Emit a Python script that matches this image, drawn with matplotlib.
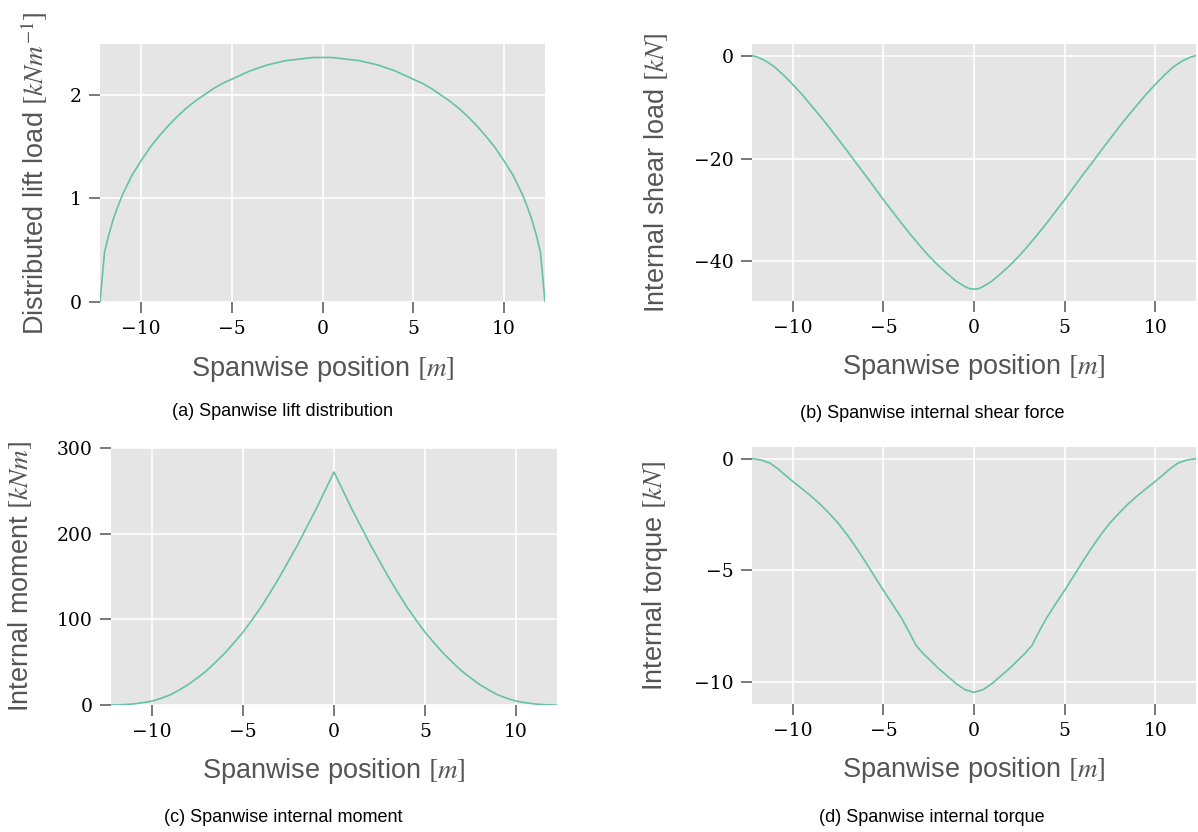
import numpy as np
import matplotlib
matplotlib.use("Agg")
import matplotlib.pyplot as plt

# spanwise stations [m] and values
span_lift = [-12.25, -12.0, -11.75, -11.5, -11.25, -11.0, -10.75, -10.5, -10.0, -9.5, -9.0, -8.5, -8.0, -7.5, -7.0,
             -6.5, -6.0, -5.5, -5.0, -4.5, -4.0, -3.5, -3.0, -2.5, -2.0, -1.5, -1.0, -0.5, 0.0,
             0.5, 1.0, 1.5, 2.0, 2.5, 3.0, 3.5, 4.0, 4.5, 5.0, 5.5, 6.0, 6.5,
             7.0, 7.5, 8.0, 8.5, 9.0, 9.5, 10.0, 10.5, 10.75, 11.0, 11.25, 11.5, 11.75, 12.0, 12.25]
lift = [0.0, 0.48, 0.66, 0.81, 0.93, 1.04, 1.13, 1.22, 1.36, 1.49, 1.60, 1.70, 1.79, 1.87, 1.94,
        2.00, 2.06, 2.11, 2.15, 2.19, 2.23, 2.26, 2.29, 2.31, 2.33, 2.34, 2.35, 2.36, 2.36,
        2.36, 2.35, 2.34, 2.33, 2.31, 2.29, 2.26, 2.23, 2.19, 2.15, 2.11, 2.06, 2.00,
        1.94, 1.87, 1.79, 1.70, 1.60, 1.49, 1.36, 1.22, 1.13, 1.04, 0.93, 0.81, 0.66, 0.48, 0.0]

span_shear = [-12.25, -12.0, -11.5, -11.0, -10.5, -10.0, -9.5, -9.0, -8.5, -8.0, -7.5, -7.0, -6.5, -6.0,
              -5.5, -5.0, -4.5, -4.0, -3.5, -3.0, -2.5, -2.0, -1.5, -1.0, -0.5, -0.25, 0.0,
              0.25, 0.5, 1.0, 1.5, 2.0, 2.5, 3.0, 3.5, 4.0, 4.5, 5.0, 5.5,
              6.0, 6.5, 7.0, 7.5, 8.0, 8.5, 9.0, 9.5, 10.0, 10.5, 11.0, 11.5, 12.0, 12.25]
shear = [0.0, -0.2, -1.0, -2.2, -3.8, -5.6, -7.5, -9.6, -11.7, -13.9, -16.2, -18.5, -20.9, -23.2,
         -25.6, -28.0, -30.3, -32.6, -34.8, -36.9, -38.9, -40.7, -42.3, -43.8, -44.9, -45.3, -45.4,
         -45.3, -44.9, -43.8, -42.3, -40.7, -38.9, -36.9, -34.8, -32.6, -30.3, -28.0, -25.6,
         -23.2, -20.9, -18.5, -16.2, -13.9, -11.7, -9.6, -7.5, -5.6, -3.8, -2.2, -1.0, -0.2, 0.0]

span_moment = [-12.25, -12.0, -11.5, -11.0, -10.5, -10.0, -9.5, -9.0, -8.5, -8.0, -7.5, -7.0, -6.5, -6.0,
               -5.5, -5.0, -4.5, -4.0, -3.5, -3.0, -2.5, -2.0, -1.5, -1.0, -0.5, 0.0,
               0.5, 1.0, 1.5, 2.0, 2.5, 3.0, 3.5, 4.0, 4.5, 5.0, 5.5,
               6.0, 6.5, 7.0, 7.5, 8.0, 8.5, 9.0, 9.5, 10.0, 10.5, 11.0, 11.5, 12.0, 12.25]
moment = [0.0, 0.1, 0.4, 1.3, 2.7, 4.5, 7.8, 11.8, 17.5, 24.0, 31.7, 40.0, 50.0, 60.5,
          72.5, 85.0, 99.5, 114.5, 131.5, 149.0, 168.0, 187.0, 207.5, 228.0, 250.0, 272.0,
          250.0, 228.0, 207.5, 187.0, 168.0, 149.0, 131.5, 114.5, 99.5, 85.0, 72.5,
          60.5, 50.0, 40.0, 31.7, 24.0, 17.5, 11.8, 7.8, 4.5, 2.7, 1.3, 0.4, 0.1, 0.0]

span_torque = [-12.25, -11.75, -11.25, -10.75, -10.5, -10.0, -9.5, -9.0, -8.5, -8.0, -7.5, -7.0, -6.5, -6.0,
               -5.5, -5.0, -4.5, -4.0, -3.6, -3.2, -2.8, -2.5, -2.0, -1.5, -1.0, -0.5, 0.0,
               0.5, 1.0, 1.5, 2.0, 2.5, 2.8, 3.2, 3.6, 4.0, 4.5, 5.0, 5.5,
               6.0, 6.5, 7.0, 7.5, 8.0, 8.5, 9.0, 9.5, 10.0, 10.5, 10.75, 11.25, 11.75, 12.25]
torque = [0.0, -0.06, -0.2, -0.5, -0.68, -1.02, -1.34, -1.67, -2.03, -2.44, -2.88, -3.4, -3.98, -4.6,
          -5.25, -5.89, -6.5, -7.13, -7.72, -8.35, -8.72, -8.95, -9.35, -9.7, -10.05, -10.33, -10.45,
          -10.33, -10.05, -9.7, -9.35, -8.95, -8.72, -8.35, -7.72, -7.13, -6.5, -5.89, -5.25,
          -4.6, -3.98, -3.4, -2.88, -2.44, -2.03, -1.67, -1.34, -1.02, -0.68, -0.5, -0.2, -0.06, 0.0]

plt.rcParams['mathtext.fontset'] = 'stix'
line_col = '#66c2a5'
lab_col = '#555555'

W, H = 1198, 832
fig = plt.figure(figsize=(W / 100, H / 100), dpi=100)


def make_ax(left, top, right, bottom):
    return fig.add_axes([left / W, 1 - bottom / H, (right - left) / W, (bottom - top) / H])


def style(ax, xlab, ylab, ylx):
    ax.set_facecolor('#e5e5e5')
    for s in ax.spines.values():
        s.set_visible(False)
    ax.grid(True, color='white', lw=1.2)
    ax.set_axisbelow(True)
    ax.tick_params(direction='out', length=8, width=1.1, color=lab_col, pad=5, labelsize=13.5)
    for t in ax.get_xticklabels() + ax.get_yticklabels():
        t.set_fontfamily('DejaVu Serif')
    ax.set_xlabel(xlab, fontsize=19.5, color=lab_col, family='Liberation Sans')
    ax.set_ylabel(ylab, fontsize=19.5, color=lab_col, family='Liberation Sans')
    ax.xaxis.set_label_coords(0.5, -0.20)
    ax.yaxis.set_label_coords(ylx, 0.5)
    ax.set_xlim(-12.25, 12.25)
    ax.set_xticks([-10, -5, 0, 5, 10])


xlab = r'Spanwise position $[m]$'

ax1 = make_ax(100, 44, 545, 302)
ax1.plot(span_lift, lift, color=line_col, lw=1.2)
ax1.set_ylim(0, 2.49)
ax1.set_yticks([0, 1, 2])
style(ax1, xlab, r'Distributed lift load $[kNm^{-1}]$', -0.112)

ax2 = make_ax(752, 44, 1196, 301)
ax2.plot(span_shear, shear, color=line_col, lw=1.2)
ax2.set_ylim(-47.7, 2.27)
ax2.set_yticks([-40, -20, 0])
style(ax2, xlab, r'Internal shear load $[kN]$', -0.185)

ax3 = make_ax(111, 448, 557, 705)
ax3.plot(span_moment, moment, color=line_col, lw=1.2)
ax3.set_ylim(0, 300)
ax3.set_yticks([0, 100, 200, 300])
style(ax3, xlab, r'Internal moment $[kNm]$', -0.173)

ax4 = make_ax(752, 447, 1196, 704)
ax4.plot(span_torque, torque, color=line_col, lw=1.2)
ax4.set_ylim(-10.97, 0.52)
ax4.set_yticks([-10, -5, 0])
style(ax4, xlab, r'Internal torque $[kN]$', -0.185)

caps = ['(a) Spanwise lift distribution', '(b) Spanwise internal shear force',
        '(c) Spanwise internal moment', '(d) Spanwise internal torque']
cap_xy = [(283, 411), (932, 413), (283, 817), (932, 817)]
for c, (cx, cy) in zip(caps, cap_xy):
    fig.text(cx / W, 1 - cy / H, c, ha='center', va='center', fontsize=13, family='Liberation Sans')

fig.savefig('out.png', dpi=100)
